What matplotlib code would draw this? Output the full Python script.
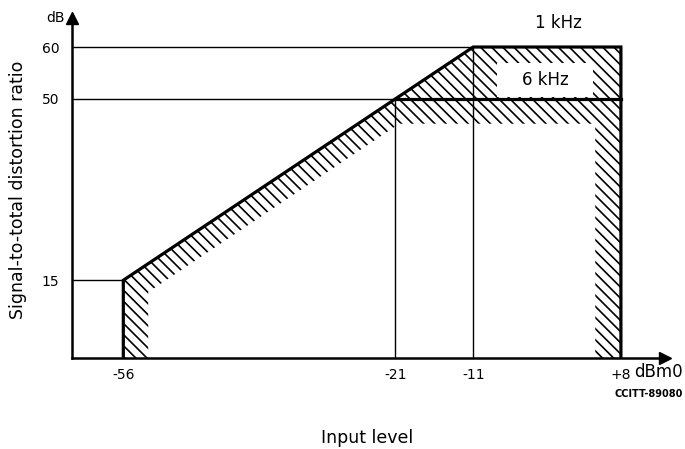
import matplotlib
matplotlib.use("Agg")
import matplotlib.pyplot as plt

plt.rcParams['font.family'] = ['DejaVu Sans']
plt.rcParams['hatch.linewidth'] = 1.2

# mask corner points (input level dBm0, ratio dB)
mask_x = [-56, -56, -11, 8, 8]      # 1 kHz limit
mask_y = [0, 15, 60, 60, 0]
k6_x = [-21, 8]                      # 6 kHz limit
k6_y = [50, 50]
x_ticks = [-56, -21, -11, 8]
x_labels = ['-56', '-21', '-11', '+8']
y_ticks = [15, 50, 60]

fig = plt.figure(figsize=(6.85, 4.49), dpi=100)
ax = fig.add_axes([72/685, 91/449, 593/685, 340/449])
ax.set_xlim(-62.6, 13.67)
ax.set_ylim(0, 65.6)

# hatched band just inside the limit
ax.fill(mask_x, mask_y, facecolor='white', edgecolor='black', linewidth=0,
        hatch='\\\\\\', zorder=1)
inner_x = [mask_x[0] + 3.2, mask_x[1] + 3.2, k6_x[0] + 0.5, k6_x[1] - 3.3, k6_x[1] - 3.3]
inner_y = [0, mask_y[1] - 2.3, k6_y[0] - 4.8, k6_y[1] - 4.8, 0]
ax.fill(inner_x, inner_y, facecolor='white', edgecolor='none', zorder=1.5)

# white box behind the 6 kHz label
ax.add_patch(plt.Rectangle((-7.9, 50.3), 12.3, 6.6, facecolor='white',
                           edgecolor='none', zorder=2.5))

# thin guide lines
xmin = ax.get_xlim()[0]
ax.plot([xmin, mask_x[1]], [mask_y[1]] * 2, color='black', lw=1.0, zorder=2)
ax.plot([xmin, k6_x[0]], [k6_y[0]] * 2, color='black', lw=1.0, zorder=2)
ax.plot([xmin, mask_x[2]], [mask_y[2]] * 2, color='black', lw=1.0, zorder=2)
ax.plot([k6_x[0]] * 2, [0, k6_y[0]], color='black', lw=1.0, zorder=2)
ax.plot([mask_x[2]] * 2, [0, mask_y[2]], color='black', lw=1.0, zorder=2)

# limit lines
ax.plot(mask_x, mask_y, color='black', lw=2.3, zorder=3, solid_joinstyle='miter')
ax.plot(k6_x, k6_y, color='black', lw=2.3, zorder=3)

ax.text(0.0, 64.6, '1 kHz', ha='center', va='center', fontsize=12, zorder=4)
ax.text(-1.75, 53.6, '6 kHz', ha='center', va='center', fontsize=12, zorder=4)

# axes with arrows
for s in ['top', 'right']:
    ax.spines[s].set_visible(False)
for s in ['left', 'bottom']:
    ax.spines[s].set_linewidth(1.8)
ax.plot(1, 0, '>k', ms=8, transform=ax.transAxes, clip_on=False)
ax.plot(0, 1, '^k', ms=8, transform=ax.transAxes, clip_on=False)

ax.set_xticks(x_ticks)
ax.set_xticklabels(x_labels)
ax.set_yticks(y_ticks)
ax.tick_params(length=0, labelsize=10)
ax.tick_params(axis='x', pad=7)
ax.tick_params(axis='y', pad=9)

ax.text(-0.012, 1.0, 'dB', transform=ax.transAxes, ha='right', va='center', fontsize=10)
fig.text(634/685, 1 - 372/449, 'dBm0', ha='left', va='center', fontsize=12)
fig.text(683/685, 1 - 394/449, 'CCITT-89080', ha='right', va='center',
         fontsize=7, fontweight='bold')
fig.text(367/685, 1 - 438/449, 'Input level', ha='center', va='center', fontsize=12.5)
fig.text(18/685, 1 - 190/449, 'Signal-to-total distortion ratio', ha='center',
         va='center', rotation=90, fontsize=12.5)

fig.savefig('out.png', dpi=100)
